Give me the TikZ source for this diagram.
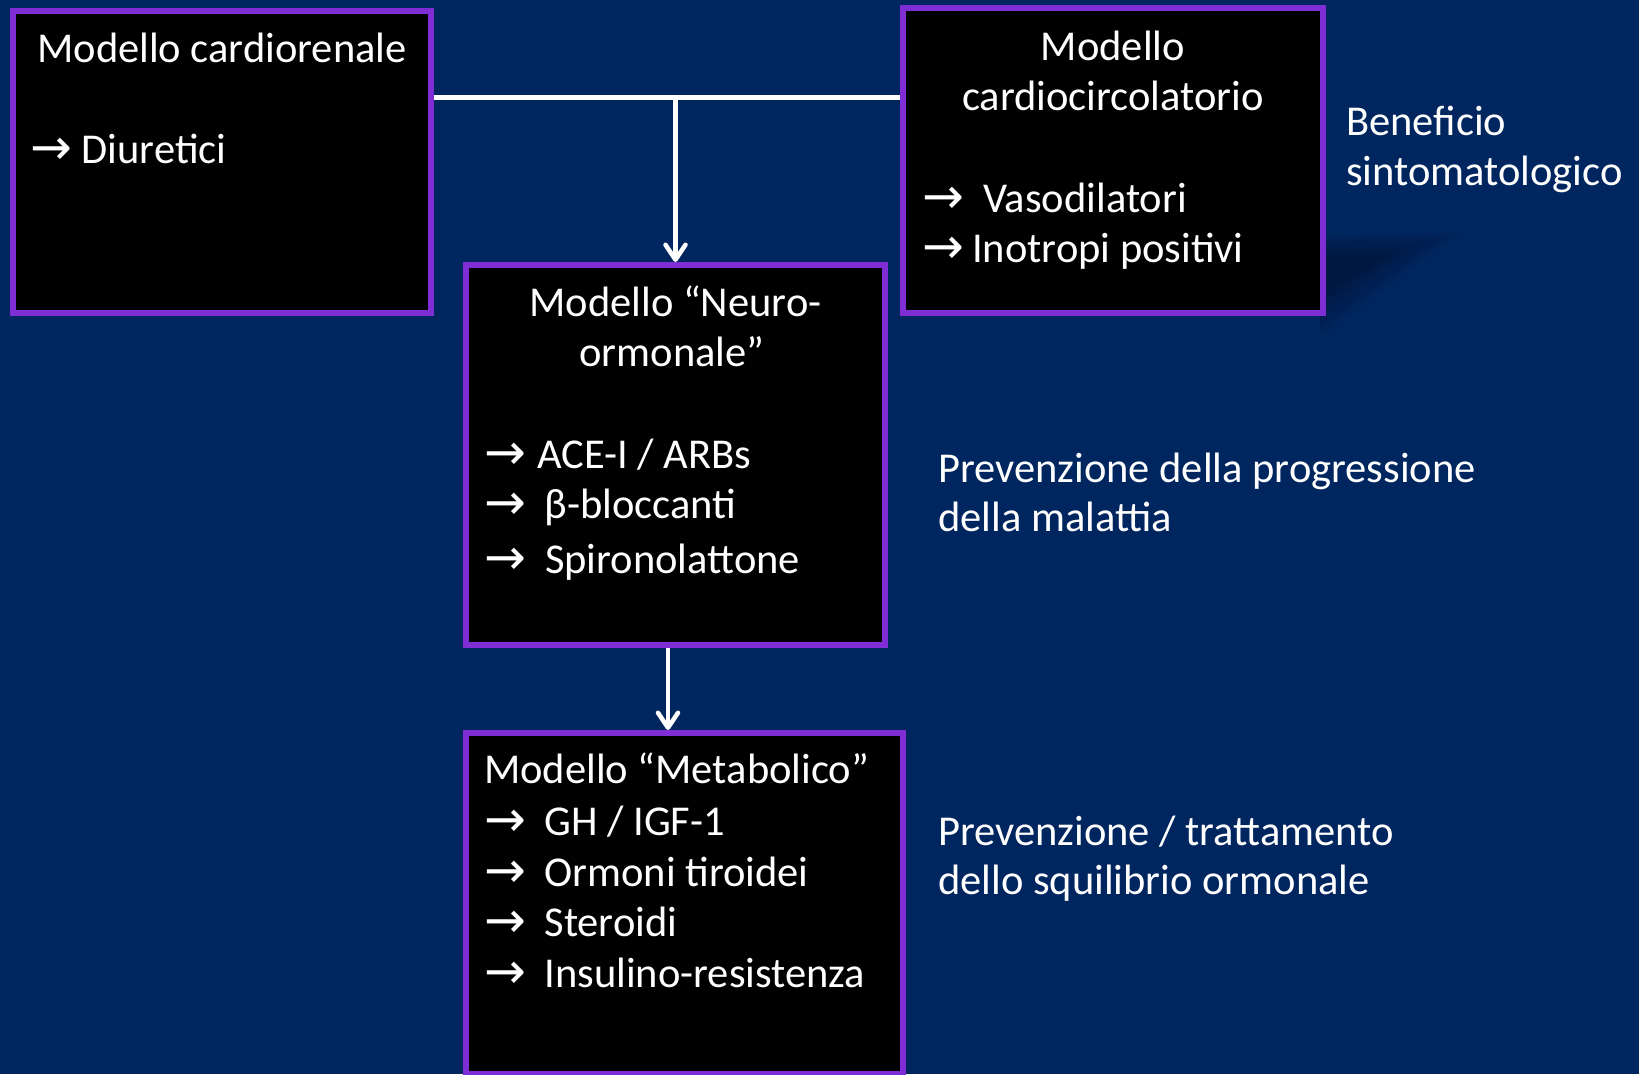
\documentclass[tikz,border=0pt]{standalone}
\usepackage{fontspec}
\setmainfont{Carlito}
\newfontfamily\arrowfont{DejaVu Sans}
\usetikzlibrary{arrows.meta}
\definecolor{bgnavy}{RGB}{0,38,96}
\definecolor{boxpurple}{RGB}{127,46,213}
\newcommand\arw{\raisebox{-1.5pt}{\arrowfont\fontsize{50pt}{50pt}\selectfont →}}
\newcommand\bul[2]{\makebox[#1pt][l]{\arw}#2}
\begin{document}
\begin{tikzpicture}[x=1pt,y=-1pt,
  box/.style={draw=boxpurple, fill=black, line width=6pt, inner sep=0pt},
  txt/.style={text=white, inner sep=0pt, font=\fontsize{42.5pt}{50pt}\selectfont},
  lft/.style={txt, anchor=base west},
  ctr/.style={txt, anchor=base},
  link/.style={draw=white, line width=4.5pt},
  arr/.style={link, -{Straight Barb[length=15pt,width=20pt,line cap=round,line join=round]}},
  shade/.style={fill=black, opacity=0.06}
]
\useasboundingbox (0,0) rectangle (1639,1074);
\fill[bgnavy] (0,0) rectangle (1639,1074);

% faint shadow right of the cardiocircolatorio box
\fill[shade] (1320,236) -- (1460,232) -- (1320,336) -- cycle;
\fill[shade] (1320,240) -- (1445,237) -- (1320,328) -- cycle;
\fill[shade] (1320,244) -- (1430,242) -- (1320,320) -- cycle;
\fill[shade] (1320,248) -- (1415,247) -- (1320,312) -- cycle;
\fill[shade] (1320,252) -- (1400,252) -- (1320,304) -- cycle;
\fill[shade] (1320,256) -- (1385,257) -- (1320,296) -- cycle;

% boxes
\node[box, minimum width=418pt, minimum height=302pt] (n1) at (222,162) {};
\node[box, minimum width=420pt, minimum height=305pt] (n2) at (1113,160.5) {};
\node[box, minimum width=419pt, minimum height=380pt] (n3) at (675.5,455) {};
\node[box, minimum width=437pt, minimum height=341pt] (n4) at (684.5,903.5) {};

% connectors
\coordinate (j) at (675.5,97.5);
\draw[link] (n1.east |- j) -- (n2.west |- j);
\draw[arr] (j) -- (n3.north);
\draw[arr] ([xshift=-7.5pt]n3.south) -- ([xshift=-7.5pt]n3.south |- n4.north);

% box 1
\node[ctr] (t1a) at (222,62.7) {Modello cardiorenale};
\node[lft] (t1b) at (30.5,163) {\bul{51}{Diuretici}};

% box 2
\node[ctr] (t2a) at (1113,60) {Modello};
\node[ctr] (t2b) at (1113,110) {cardiocircolatorio};
\node[lft] (t2c) at (922,212) {\bul{61}{Vasodilatori}};
\node[lft] (t2d) at (922,262) {\bul{50}{Inotropi positivi}};

% box 3
\node[ctr] (t3a) at (675.5,316) {Modello “Neuro-};
\node[ctr] (t3b) at (672,366.7) {ormonale”};
\node[lft] (t3c) at (484.3,468) {\bul{53}{ACE-I / ARBs}};
\node[lft] (t3d) at (484.3,518) {\bul{60}{β-bloccanti}};
\node[lft] (t3e) at (484.3,573) {\bul{60.5}{Spironolattone}};

% box 4
\node[lft] (t4a) at (484,783) {Modello “Metabolico”};
\node[lft] (t4b) at (484.3,835) {\bul{60}{GH / IGF-1}};
\node[lft] (t4c) at (484.3,886) {\bul{60}{Ormoni tiroidei}};
\node[lft] (t4d) at (484.3,936) {\bul{60}{Steroidi}};
\node[lft] (t4e) at (484.3,987) {\bul{60}{Insulino-resistenza}};

% side labels
\node[lft] (s1a) at (1346,135) {Beneficio};
\node[lft] (s1b) at (1346,185) {sintomatologico};
\node[lft] (s2a) at (938,482.7) {Prevenzione della progressione};
\node[lft] (s2b) at (938,531.7) {della malattia};
\node[lft] (s3a) at (938,845) {Prevenzione / trattamento};
\node[lft] (s3b) at (938,894) {dello squilibrio ormonale};
\end{tikzpicture}
\end{document}
